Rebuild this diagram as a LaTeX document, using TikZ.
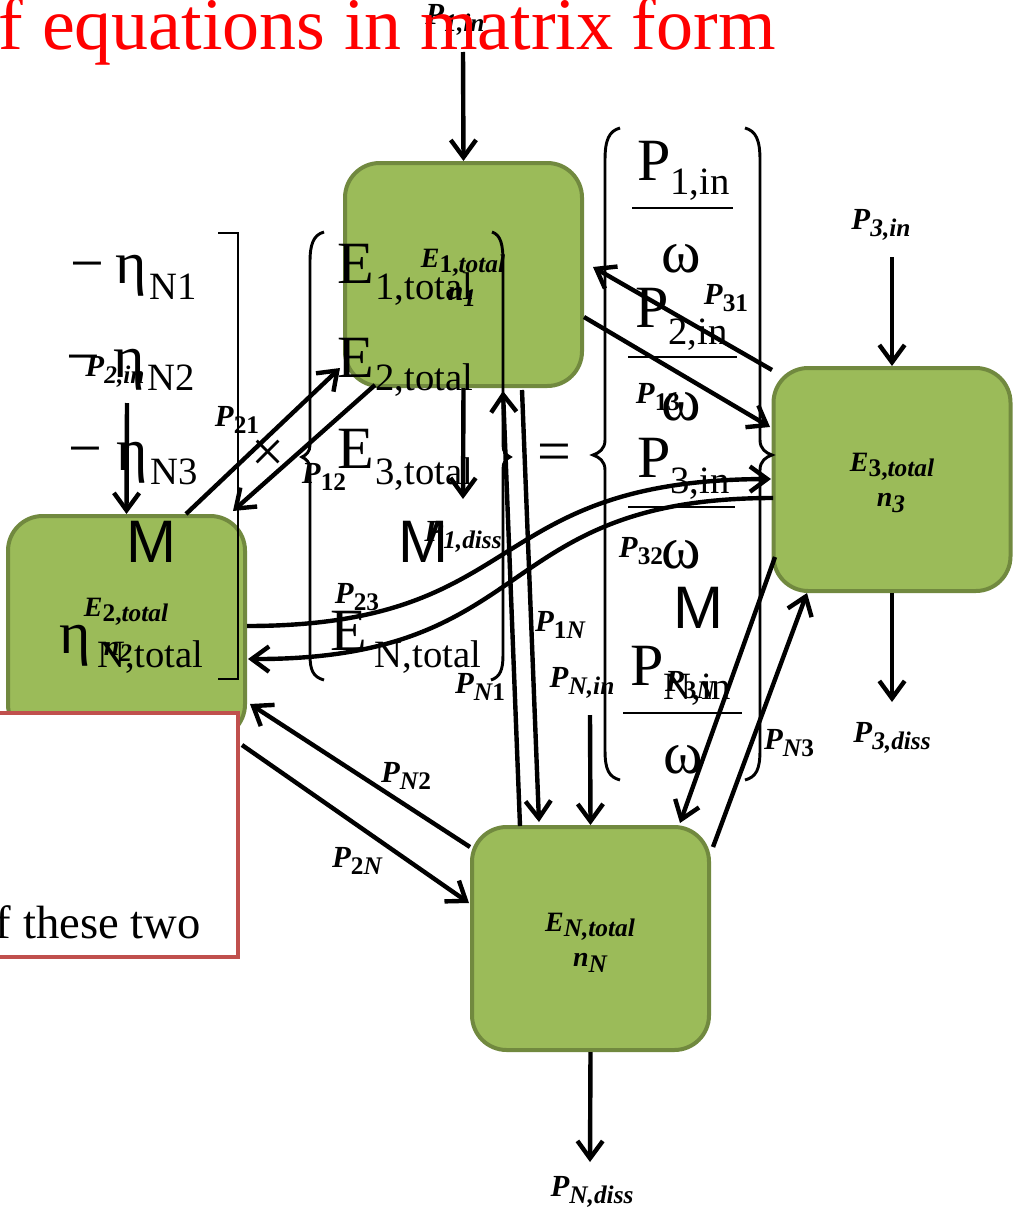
\documentclass[tikz,border=0pt]{standalone}
\usepackage{fontspec}
\setmainfont{Liberation Serif}
\newfontfamily\arialf{Liberation Sans}
\usetikzlibrary{arrows.meta}
\definecolor{boxfill}{HTML}{9BBB59}
\definecolor{boxedge}{HTML}{71893F}
\definecolor{redbox}{HTML}{C0504D}
\newcommand{\bigf}{\fontsize{45}{48}\selectfont}
\newcommand{\subf}{\fontsize{29}{31}\selectfont}
\newcommand{\lblf}{\fontsize{23}{26}\selectfont}
\newcommand{\boxf}{\fontsize{21}{24}\selectfont}
\newcommand{\PL}[1]{\textbf{\textit{P}}\raisebox{-5pt}{\fontsize{19}{19}\selectfont\bfseries #1}}
\newcommand{\EL}[1]{\textbf{\textit{E}}\raisebox{-4pt}{\fontsize{19}{19}\selectfont\bfseries #1}}
\newcommand{\NL}[1]{\textbf{\textit{n}}\raisebox{-4pt}{\fontsize{19}{19}\selectfont\bfseries\itshape #1}}
\begin{document}
\begin{tikzpicture}[x=0.75pt,y=-0.75pt,
  gbox/.style={draw=boxedge,fill=boxfill,line width=3pt,rounded corners=26pt,
    minimum width=177.75pt,minimum height=167.25pt,inner sep=0pt},
  arr/.style={line width=3.3pt,-{Straight Barb[length=13pt,width=19pt]}},
  lab/.style={inner sep=0pt,font=\lblf},
  blab/.style={inner sep=0pt,font=\boxf},
  mtx/.style={inner sep=0pt,anchor=base west,font=\bigf},
  brk/.style={line width=2.2pt},
  fr/.style={line width=2.2pt}]
\useasboundingbox (0,0) rectangle (1019,1210);

% green boxes
\node[gbox] (b1) at (463.5,274.5) {};
\node[gbox] (b2) at (126.5,627.5) {};
\node[gbox] (b3) at (892,479.5) {};
\node[gbox] (bN) at (590.5,938.5) {};

% box labels
\node[blab] (e1) at (463,263) {\EL{1,\itshape total}};
\node[blab] (n1) at (462,297) {\NL{1}};
\node[blab] (e2) at (126,612) {\EL{2,\itshape total}};
\node[blab] (n2) at (118,652) {\NL{2}};
\node[blab] (e3) at (892,467) {\EL{3,\itshape total}};
\node[blab] (n3) at (891,503) {\NL{3}};
\node[blab] (eN) at (590,927) {\EL{\itshape N,total}};
\node[blab] (nN) at (590,963) {\NL{N}};

% matrix (left factor)
\node[mtx] (m1) at (70,283) {−};
\node[mtx] (eta1) at (115,283) {η\kern2pt\raisebox{-12pt}{\subf N1}};
\node[mtx] (m2) at (66,376) {−};
\node[mtx] (eta2) at (113,377) {η\kern2pt\raisebox{-10pt}{\subf N2}};
\node[mtx] (m3) at (68,468) {−};
\node[mtx] (eta3) at (116,470) {η\kern2pt\raisebox{-11pt}{\subf N3}};
\node[mtx] (mM1) at (126,562) {\arialf M};
\node[mtx] (etaN) at (59,653) {η\kern5pt\raisebox{-11pt}{\subf N,total}};
\draw[brk] (218,233) -- (238,233) -- (238,679) -- (218,679);
\node[inner sep=0pt] (times) at (268,456) {\fontsize{44}{44}\selectfont ×};

% vector
\node[mtx] (v1) at (337,283) {E\kern1pt\raisebox{-12pt}{\subf 1,total}};
\node[mtx] (v2) at (337,377) {E\kern1pt\raisebox{-10pt}{\subf 2,total}};
\node[mtx] (v3) at (337,468) {E\kern1pt\raisebox{-12pt}{\subf 3,total}};
\node[mtx] (vM) at (398,562) {\arialf M};
\node[mtx] (vN) at (330,650) {E\kern6pt\raisebox{-13pt}{\subf N,total}};
\draw[brk] (324,232) .. controls (313,235) and (310,245) .. (310,262) -- (310,445)
  .. controls (310,452) and (306,455) .. (302,457) .. controls (306,459) and (310,462) .. (310,469)
  -- (310,655) .. controls (310,670) and (313,677) .. (324,680);
\draw[brk] (492,232) .. controls (501,235) and (503,245) .. (503,262) -- (503,445)
  .. controls (503,452) and (506,455) .. (510,457) .. controls (506,459) and (503,462) .. (503,469)
  -- (503,655) .. controls (503,670) and (500,677) .. (491,680);
\node[mtx] (eq) at (537,471) {=};

% right-hand side
\node[mtx] (r1) at (637,180) {P\raisebox{-11pt}{\subf 1,in}};
\draw[fr] (632,208) -- (733,208);
\node[mtx] (w1) at (661,272) {ω};
\node[mtx] (r2) at (635,327) {P\raisebox{-13pt}{\subf 2,in}};
\draw[fr] (628,357) -- (737,357);
\node[mtx] (w2) at (661,420) {ω};
\node[mtx] (r3) at (637,477) {P\raisebox{-12pt}{\subf 3,in}};
\draw[fr] (628,507) -- (735,507);
\node[mtx] (w3) at (661,568) {ω};
\node[mtx] (rM) at (673,628) {\arialf M};
\node[mtx] (rN) at (630,685) {P\raisebox{-11pt}{\subf N,in}};
\draw[fr] (623,713) -- (742,713);
\node[mtx] (w4) at (663,773) {ω};
\draw[brk] (620,128) .. controls (609,131) and (605,140) .. (605,160) -- (605,440)
  .. controls (605,449) and (599,453) .. (593,455) .. controls (599,457) and (605,461) .. (605,470)
  -- (605,750) .. controls (605,770) and (609,777) .. (620,780);
\draw[brk] (745,128) .. controls (756,131) and (760,140) .. (760,160) -- (760,440)
  .. controls (760,449) and (766,453) .. (772,455) .. controls (766,457) and (760,461) .. (760,470)
  -- (760,750) .. controls (760,770) and (756,777) .. (745,780);

% input / dissipation arrows
\coordinate (s1in) at (463,52);
\coordinate (e1d) at (463,499);
\coordinate (s3in) at (892,257);
\coordinate (e3d) at (892,702);
\coordinate (s2in) at (127,403);
\coordinate (sNin) at (590,715);
\coordinate (eNd) at (590,1162);
\draw[arr] (s1in) -- (b1.north);
\draw[arr] (b1.south) -- (e1d);
\draw[arr] (s3in) -- (b3.north);
\draw[arr] (b3.south) -- (e3d);
\draw[arr] (s2in) -- (b2.north);
\draw[arr] (sNin) -- (bN.north);
\draw[arr] (bN.south) -- (eNd);

% exchange arrows
\coordinate (a21s) at (186,514); \coordinate (a21e) at (340,368);
\coordinate (a12s) at (375,385); \coordinate (a12e) at (233,511);
\coordinate (a31s) at (772,370); \coordinate (a31e) at (593,267);
\coordinate (a13s) at (584,317); \coordinate (a13e) at (770,427);
\coordinate (a1Ns) at (522,390); \coordinate (a1Ne) at (539,822);
\coordinate (aN1s) at (520,826); \coordinate (aN1e) at (503,391);
\coordinate (aN2s) at (470,847); \coordinate (aN2e) at (250,704);
\coordinate (a2Ns) at (242,745); \coordinate (a2Ne) at (469,903);
\coordinate (a3Ns) at (775,557); \coordinate (a3Ne) at (680,823);
\coordinate (aN3s) at (713,847); \coordinate (aN3e) at (807,593);
\coordinate (a23s) at (247,626); \coordinate (a23e) at (771,479);
\coordinate (a32s) at (773,498); \coordinate (a32e) at (248,659);
\draw[arr] (a21s) -- (a21e);
\draw[arr] (a12s) -- (a12e);
\draw[arr] (a31s) -- (a31e);
\draw[arr] (a13s) -- (a13e);
\draw[arr] (a1Ns) -- (a1Ne);
\draw[arr] (aN1s) -- (aN1e);
\draw[arr] (aN2s) -- (aN2e);
\draw[arr] (a2Ns) -- (a2Ne);
\draw[arr] (a3Ns) -- (a3Ne);
\draw[arr] (aN3s) -- (aN3e);
\draw[arr] (a23s) .. controls (530,626) and (480,480) .. (a23e);
\draw[arr] (a32s) .. controls (490,498) and (540,660) .. (a32e);

% arrow labels
\node[lab] (l1in) at (455,20) {\PL{\itshape 1,in}};
\node[lab] (l1d) at (463,537) {\PL{\itshape 1,diss}};
\node[lab] (l3in) at (881,225) {\PL{\itshape 3,in}};
\node[lab] (l3d) at (892,738) {\PL{\itshape 3,diss}};
\node[lab] (lNd) at (592,1192) {\PL{\itshape N,diss}};
\node[lab] (l2in) at (115,372) {\PL{\itshape 2,in}};
\node[lab] (lNin) at (582,683) {\PL{\itshape N,in}};
\node[lab] (l21) at (237,420) {\PL{21}};
\node[lab] (l12) at (324,477) {\PL{12}};
\node[lab] (l31) at (726,298) {\PL{31}};
\node[lab] (l13) at (658,397) {\PL{13}};
\node[lab] (l23) at (357,597) {\PL{23}};
\node[lab] (l32) at (641,551) {\PL{32}};
\node[lab] (l1N) at (560,625) {\PL{1\itshape N}};
\node[lab] (lN1) at (480,687) {\PL{{\itshape N}1}};
\node[lab] (lN2) at (406,776) {\PL{{\itshape N}2}};
\node[lab] (l2N) at (357,861) {\PL{2\itshape N}};
\node[lab] (l3N) at (690,685) {\PL{3\itshape N}};
\node[lab] (lN3) at (789,743) {\PL{{\itshape N}3}};

% red box
\node[draw=redbox,fill=white,line width=2.5pt,inner sep=0pt,
  minimum width=201pt,minimum height=183pt] (rbox) at (104,835) {};
\node[inner sep=0pt,anchor=base east,font=\fontsize{35}{38}\selectfont] (rtext) at (201,938) {f these two};

% title
\node[inner sep=0pt,anchor=base east,text=red,font=\fontsize{55.5}{60}\selectfont] (title) at (776,49) {f equations in matrix form};
\end{tikzpicture}
\end{document}
